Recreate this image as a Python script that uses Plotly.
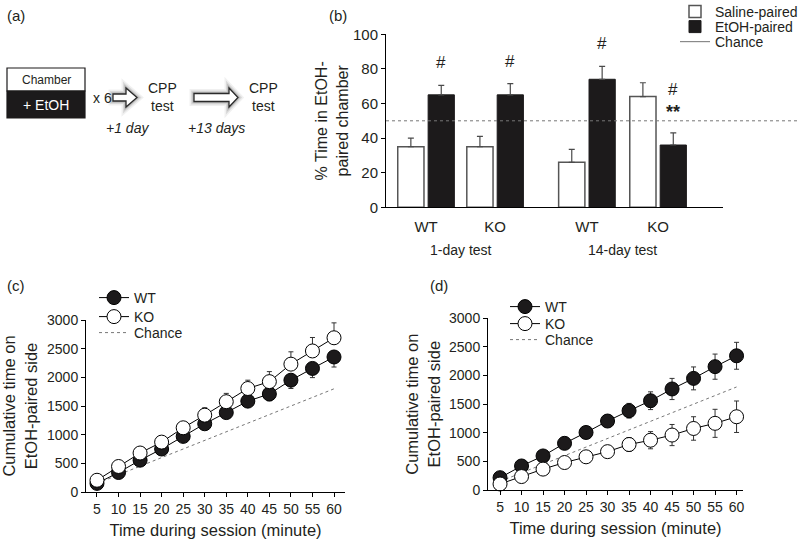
import plotly.graph_objects as go

W, H = 800, 544
FONT = "Liberation Sans, Arial, sans-serif"
INK = "#231f20"


def px(x):
    return x / W


def py(y):
    return 1 - y / H


# ---------------- Panel (b) data ----------------
test_groups = ["1-day test", "14-day test"]
genotypes = ["WT", "KO", "WT", "KO"]
saline_mean = [35, 35, 26, 64]
saline_sem = [5, 6, 7.5, 8]
etoh_mean = [65, 65, 74, 36]
etoh_sem = [5.5, 6.5, 7.5, 7]
chance_pct = 50
hash_marks = ["#", "#", "#", "#"]
star_marks = ["", "", "", "**"]

# ---------------- Panel (c) / (d) data ----------------
minutes = [5, 10, 15, 20, 25, 30, 35, 40, 45, 50, 55, 60]
c_wt = [150, 340, 555, 750, 970, 1190, 1385, 1585, 1710, 1950, 2155, 2355]
c_wt_err = [20, 30, 40, 50, 60, 70, 80, 100, 120, 145, 160, 175]
c_ko = [205, 445, 680, 870, 1120, 1340, 1575, 1805, 1925, 2230, 2460, 2690]
c_ko_err = [25, 40, 50, 60, 90, 130, 145, 145, 175, 215, 235, 260]
d_wt = [215, 420, 595, 815, 1005, 1205, 1385, 1560, 1765, 1950, 2155, 2345]
d_wt_err = [30, 40, 50, 60, 80, 100, 128, 155, 185, 200, 220, 235]
d_ko = [105, 235, 365, 480, 580, 670, 795, 870, 960, 1075, 1165, 1280]
d_ko_err = [30, 40, 50, 60, 80, 90, 122, 150, 185, 205, 245, 275]
chance_time = [150, 300, 450, 600, 750, 900, 1050, 1200, 1350, 1500, 1650, 1800]

# layout positions for panel (b) categories
pair_pos = [1.0, 2.0, 3.33, 4.36]
BAR_W = 0.38

fig = go.Figure()

# legend slots: one legend per entry so the row spacing matches the reference
leg_b = {"Saline-paired": ("legend", 12), "EtOH-paired": ("legend2", 27), "Chance": ("legend3", 42)}
leg_c = {"WT": ("legend4", 298), "KO": ("legend5", 317), "Chance": ("legend6", 333)}
leg_d = {"WT": ("legend7", 307), "KO": ("legend8", 324), "Chance": ("legend9", 340)}

# ---- (b) bars ----
fig.add_trace(go.Bar(
    x=pair_pos, y=saline_mean, width=BAR_W, offset=-0.41,
    name="Saline-paired", legend=leg_b["Saline-paired"][0],
    marker=dict(color="white", line=dict(color="#555", width=1.5)),
    error_y=dict(type="data", array=saline_sem, arrayminus=[0] * 4, symmetric=False,
                 color="#4a4a4a", thickness=1.2, width=3),
    xaxis="x", yaxis="y"))
fig.add_trace(go.Bar(
    x=pair_pos, y=etoh_mean, width=BAR_W, offset=0.03,
    name="EtOH-paired", legend=leg_b["EtOH-paired"][0],
    marker=dict(color="#1c1a1b", line=dict(color="#1c1a1b", width=1)),
    error_y=dict(type="data", array=etoh_sem, arrayminus=[0] * 4, symmetric=False,
                 color="#4a4a4a", thickness=1.2, width=3),
    xaxis="x", yaxis="y"))
fig.add_trace(go.Scatter(
    x=[None], y=[None], mode="lines", name="Chance", legend=leg_b["Chance"][0],
    line=dict(color="#8a8a8a", width=1.2), xaxis="x", yaxis="y"))


def line_panel(xa, ya, leg, wt, wt_err, ko, ko_err, both_sides):
    fig.add_trace(go.Scatter(
        x=minutes, y=chance_time, mode="lines", name="Chance", legend=leg["Chance"][0],
        line=dict(color="#777", width=1, dash="dot"),
        xaxis=xa, yaxis=ya))
    fig.add_trace(go.Scatter(
        x=minutes, y=wt, mode="lines+markers", name="WT", legend=leg["WT"][0],
        line=dict(color="black", width=1),
        marker=dict(symbol="circle", size=14, color="#1c1a1b", line=dict(color="black", width=1)),
        error_y=dict(type="data", array=wt_err if both_sides else [0] * len(wt_err),
                     arrayminus=wt_err, symmetric=False, color="#333", thickness=1, width=2.5),
        cliponaxis=False, xaxis=xa, yaxis=ya))
    fig.add_trace(go.Scatter(
        x=minutes, y=ko, mode="lines+markers", name="KO", legend=leg["KO"][0],
        line=dict(color="black", width=1),
        marker=dict(symbol="circle", size=14, color="white", line=dict(color="black", width=1)),
        error_y=dict(type="data", array=ko_err,
                     arrayminus=ko_err if both_sides else [0] * len(ko_err), symmetric=False,
                     color="#333", thickness=1, width=2.5),
        cliponaxis=False, xaxis=xa, yaxis=ya))


line_panel("x2", "y2", leg_c, c_wt, c_wt_err, c_ko, c_ko_err, False)
line_panel("x3", "y3", leg_d, d_wt, d_wt_err, d_ko, d_ko_err, True)

axis_common = dict(showline=True, linecolor="black", linewidth=1, showgrid=False,
                   zeroline=False, ticks="outside", ticklen=4, tickcolor="black",
                   tickfont=dict(size=14, color=INK, family=FONT))

legend_layout = {}
for slots, lx in [(leg_b, 675), (leg_c, 94), (leg_d, 505)]:
    for name, (key, ly) in slots.items():
        legend_layout[key] = dict(x=px(lx), y=py(ly), xanchor="left", yanchor="middle",
                                  font=dict(size=14, color=INK), bgcolor="rgba(0,0,0,0)",
                                  itemwidth=30, tracegroupgap=0, borderwidth=0)

fig.update_layout(
    width=W, height=H, margin=dict(l=0, r=0, t=0, b=0, autoexpand=False),
    paper_bgcolor="white", plot_bgcolor="white",
    font=dict(family=FONT, size=15, color=INK),
    showlegend=True,
    xaxis=dict(axis_common, domain=[px(386), px(723)], range=[0.42, 5.30], anchor="y",
               tickmode="array", tickvals=pair_pos, ticktext=genotypes,
               tickfont=dict(size=15, color=INK, family=FONT),
               ticklen=6, tickcolor="rgba(0,0,0,0)"),
    yaxis=dict(axis_common, domain=[py(207.3), py(34.3)], range=[0, 100], anchor="x",
               tickmode="array", tickvals=[0, 20, 40, 60, 80, 100],
               tickfont=dict(size=15, color=INK, family=FONT),
               title=dict(text="% Time in EtOH-<br>paired chamber", standoff=0,
                          font=dict(size=16))),
    xaxis2=dict(axis_common, domain=[px(86), px(345)], range=[2.45, 62.55], anchor="y2",
                tickmode="array", tickvals=minutes,
                title=dict(text="Time during session (minute)", standoff=8, font=dict(size=16.5))),
    yaxis2=dict(axis_common, domain=[py(492), py(320)], range=[0, 3000], anchor="x2",
                tickmode="array", tickvals=[0, 500, 1000, 1500, 2000, 2500, 3000],
                title=dict(text="Cumulative time on<br>EtOH-paired side", standoff=5,
                           font=dict(size=16.5))),
    xaxis3=dict(axis_common, domain=[px(488), px(743)], range=[2.2, 61.5], anchor="y3",
                tickmode="array", tickvals=minutes,
                title=dict(text="Time during session (minute)", standoff=8, font=dict(size=16.5))),
    yaxis3=dict(axis_common, domain=[py(490), py(318.3)], range=[0, 3000], anchor="x3",
                tickmode="array", tickvals=[0, 500, 1000, 1500, 2000, 2500, 3000],
                title=dict(text="Cumulative time on<br>EtOH-paired side", standoff=4,
                           font=dict(size=16.5))),
    **legend_layout,
)

shapes = []
annotations = []

# chance line in (b), extends past the axis as in the reference
shapes.append(dict(type="line", xref="paper", yref="y", x0=px(386), x1=px(798),
                   y0=chance_pct, y1=chance_pct,
                   line=dict(color="#777", width=1, dash="dot")))

# significance marks in (b)
for i, p in enumerate(pair_pos):
    top = etoh_mean[i] + etoh_sem[i]
    xc = p + 0.03 + BAR_W / 2
    if star_marks[i]:
        annotations.append(dict(x=xc, y=top + 12, xref="x", yref="y", text="<b>**</b>",
                                xanchor="center", yanchor="middle",
                                showarrow=False, font=dict(size=18, color=INK)))
        annotations.append(dict(x=xc, y=top + 25, xref="x", yref="y", text=hash_marks[i],
                                xanchor="center", yanchor="middle",
                                showarrow=False, font=dict(size=17, color=INK)))
    else:
        annotations.append(dict(x=xc, y=top + 13, xref="x", yref="y", text=hash_marks[i],
                                xanchor="center", yanchor="middle",
                                showarrow=False, font=dict(size=17, color=INK)))

# group labels in (b)
for g, (a, b) in zip(test_groups, [(0, 1), (2, 3)]):
    annotations.append(dict(x=(pair_pos[a] + pair_pos[b]) / 2, y=py(250), xref="x", yref="paper",
                            xanchor="center", yanchor="middle",
                            text=g, showarrow=False, font=dict(size=14, color=INK)))

# panel letters
for t, x, y in [("(a)", 16, 15), ("(b)", 338, 15), ("(c)", 16, 285), ("(d)", 439, 285)]:
    annotations.append(dict(x=px(x), y=py(y), xref="paper", yref="paper", text=t,
                            xanchor="center", yanchor="middle",
                            showarrow=False, font=dict(size=15, color=INK)))

# ---------------- Panel (a) schematic ----------------
shapes.append(dict(type="rect", xref="paper", yref="paper", x0=px(7), x1=px(85),
                   y0=py(91), y1=py(68), fillcolor="white", line=dict(color="#1c1a1b", width=1.2)))
shapes.append(dict(type="rect", xref="paper", yref="paper", x0=px(7), x1=px(85),
                   y0=py(118), y1=py(91), fillcolor="#1c1a1b", line=dict(color="#1c1a1b", width=1.2)))


def path(points):
    return "M " + " L ".join(f"{px(x):.5f},{py(y):.5f}" for x, y in points) + " Z"


arrow1 = [(113, 94), (126, 94), (126, 88), (137, 97.5), (126, 107), (126, 101), (113, 101)]
arrow2 = [(194, 93.5), (229, 93.5), (229, 88), (238, 97.5), (229, 107), (229, 101.5), (194, 101.5)]
for arr in (arrow1, arrow2):
    p = path(arr)
    for wdt, op in [(9, 0.06), (6, 0.09), (3.5, 0.14)]:
        shapes.append(dict(type="path", xref="paper", yref="paper", path=p,
                           fillcolor="rgba(0,0,0,0)",
                           line=dict(color=f"rgba(0,0,0,{op})", width=wdt)))
    shapes.append(dict(type="path", xref="paper", yref="paper", path=p,
                       fillcolor="white", line=dict(color="#2a2a2a", width=1.3)))

for t, x, y, sz, col, it in [
    ("Chamber", 46, 80, 12, INK, False),
    ("+ EtOH", 46, 105, 14, "white", False),
    ("x 6", 102, 98, 14, INK, False),
    ("CPP", 162, 88, 14, INK, False),
    ("test", 162, 106, 14, INK, False),
    ("CPP", 263, 88, 14, INK, False),
    ("test", 263, 106, 14, INK, False),
    ("+1 day", 127, 128, 14, INK, True),
    ("+13 days", 216, 128, 14, INK, True),
]:
    annotations.append(dict(x=px(x), y=py(y), xref="paper", yref="paper",
                            xanchor="center", yanchor="middle",
                            text=f"<i>{t}</i>" if it else t, showarrow=False,
                            font=dict(size=sz, color=col)))

fig.update_layout(shapes=shapes, annotations=annotations)

fig.write_html("out.html", config={"displayModeBar": False},
               post_script="document.body.style.margin='0';")
